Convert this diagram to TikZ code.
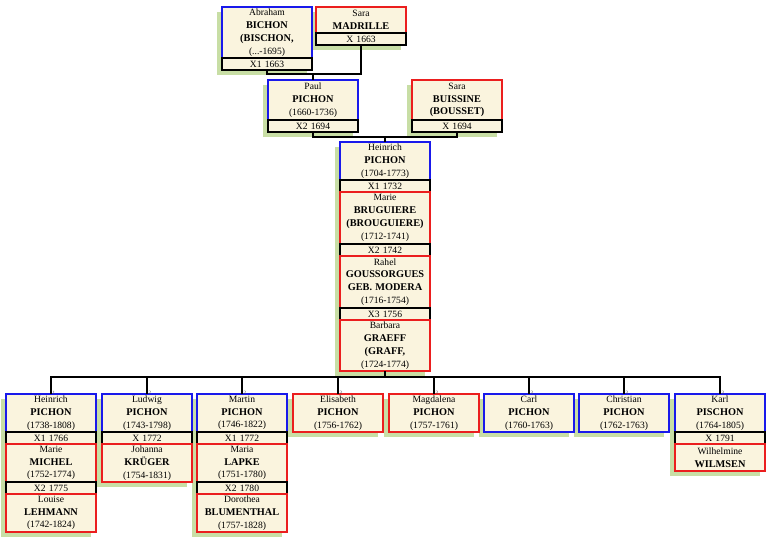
\documentclass[tikz,border=0pt]{standalone}
\usepackage{fontspec}
\setmainfont{Liberation Serif}
\usetikzlibrary{positioning,backgrounds}
\definecolor{cream}{RGB}{250,244,222}
\definecolor{mblue}{RGB}{25,25,235}
\definecolor{fred}{RGB}{235,30,30}
\definecolor{shade}{RGB}{200,222,165}
\newcommand{\nm}[1]{{\fontsize{10.3}{12.8}\selectfont\bfseries #1}}

\begin{document}
\begin{tikzpicture}[x=1pt, y=-1pt,
  box/.style={shape=rectangle, fill=cream, line width=1.4pt, inner xsep=2pt, inner ysep=1.6pt, outer sep=0pt, text width=86pt, align=center, font=\fontsize{9.6}{12.8}\selectfont},
  man/.style={box, draw=mblue, minimum height=#1},
  man/.default=38pt,
  woman/.style={box, draw=fred, minimum height=#1},
  woman/.default=38pt,
  wed/.style={box, draw=black, minimum height=12pt},
  link/.style={draw=black, line width=1.3pt},
  num/.style={font=\fontsize{5}{5}\selectfont, inner sep=0pt, text=black!70},
  backshade/.style={fill=shade}]
        \useasboundingbox (0,0) rectangle (768,540);

        % grandparents
        \node[man=51pt, anchor=north west] (abraham) at (222,7) {Abraham\\\nm{BICHON}\\\nm{(BISCHON,}\\(...-1695)};
        \node[wed, below=0pt of abraham] (abrahamx) {X1 1663};
        \node[woman=26pt, anchor=north west] (madrille) at (316,7) {Sara\\\nm{MADRILLE}};
        \node[wed, below=0pt of madrille] (madrillex) {X 1663};

        % parents
        \node[man=40pt, anchor=north west] (paul) at (268,80) {Paul\\\nm{PICHON}\\(1660-1736)};
        \node[wed, below=0pt of paul] (paulx) {X2 1694};
        \node[woman=40pt, anchor=north west] (buissine) at (412,80) {Sara\\\nm{BUISSINE}\\\nm{(BOUSSET)}};
        \node[wed, below=0pt of buissine] (buissinex) {X 1694};

        % Heinrich and his wives
        \node[man, anchor=north west] (heinrich) at (340,142) {Heinrich\\\nm{PICHON}\\(1704-1773)};
        \node[wed, below=0pt of heinrich] (heinrichx1) {X1 1732};
        \node[woman=52pt, below=0pt of heinrichx1] (bruguiere) {Marie\\\nm{BRUGUIERE}\\\nm{(BROUGUIERE)}\\(1712-1741)};
        \node[wed, below=0pt of bruguiere] (heinrichx2) {X2 1742};
        \node[woman=52pt, below=0pt of heinrichx2] (goussorgues) {Rahel\\\nm{GOUSSORGUES}\\\nm{GEB. MODERA}\\(1716-1754)};
        \node[wed, below=0pt of goussorgues] (heinrichx3) {X3 1756};
        \node[woman=51pt, below=0pt of heinrichx3] (barbara) {Barbara\\\nm{GRAEFF}\\\nm{(GRAFF,}\\(1724-1774)};

        % children
        \node[man, anchor=north west] (heinrichj) at (6,394) {Heinrich\\\nm{PICHON}\\(1738-1808)};
        \node[wed, below=0pt of heinrichj] (heinrichjx1) {X1 1766};
        \node[woman, below=0pt of heinrichjx1] (michel) {Marie\\\nm{MICHEL}\\(1752-1774)};
        \node[wed, below=0pt of michel] (heinrichjx2) {X2 1775};
        \node[woman, below=0pt of heinrichjx2] (lehmann) {Louise\\\nm{LEHMANN}\\(1742-1824)};

        \node[man, anchor=north west] (ludwig) at (102,394) {Ludwig\\\nm{PICHON}\\(1743-1798)};
        \node[wed, below=0pt of ludwig] (ludwigx) {X 1772};
        \node[woman, below=0pt of ludwigx] (krueger) {Johanna\\\nm{KRÜGER}\\(1754-1831)};

        \node[man, anchor=north west] (martin) at (197,394) {Martin\\\nm{PICHON}\\(1746-1822)};
        \node[wed, below=0pt of martin] (martinx1) {X1 1772};
        \node[woman, below=0pt of martinx1] (lapke) {Maria\\\nm{LAPKE}\\(1751-1780)};
        \node[wed, below=0pt of lapke] (martinx2) {X2 1780};
        \node[woman, below=0pt of martinx2] (blumenthal) {Dorothea\\\nm{BLUMENTHAL}\\(1757-1828)};

        \node[woman, anchor=north west] (elisabeth) at (293,394) {Elisabeth\\\nm{PICHON}\\(1756-1762)};
        \node[woman, anchor=north west] (magdalena) at (389,394) {Magdalena\\\nm{PICHON}\\(1757-1761)};
        \node[man, anchor=north west] (carl) at (484,394) {Carl\\\nm{PICHON}\\(1760-1763)};
        \node[man, anchor=north west] (christian) at (579,394) {Christian\\\nm{PICHON}\\(1762-1763)};

        \node[man, anchor=north west] (karl) at (675,394) {Karl\\\nm{PISCHON}\\(1764-1805)};
        \node[wed, below=0pt of karl] (karlx) {X 1791};
        \node[woman=27pt, below=0pt of karlx] (wilmsen) {Wilhelmine\\\nm{WILMSEN}};

        % shadows
        \begin{pgfonlayer}{background}
        \foreach \a/\b in {abraham/abrahamx, madrille/madrillex, paul/paulx, buissine/buissinex, heinrich/barbara, heinrichj/lehmann, ludwig/krueger, martin/blumenthal, elisabeth/elisabeth, magdalena/magdalena, carl/carl, christian/christian, karl/wilmsen}
          \fill[backshade] ([shift={(-5,5)}]\a.north west) rectangle ([shift={(-5,5)}]\b.south east);
        \end{pgfonlayer}

        % lines
        \coordinate (j1) at (313,74);
        \coordinate (j2) at (385,137);
        \coordinate (j3) at (385,377);
        \draw[link] (abrahamx.south) |- (j1) -| (madrillex.south);
        \draw[link] (j1) -- (paul.north);
        \draw[link] (paulx.south) |- (j2) -| (buissinex.south);
        \draw[link] (j2) -- (heinrich.north);
        \draw[link] (barbara.south) -- (j3);
        \draw[link] (heinrichj.north) |- (j3) -| (karl.north);
        \foreach \c in {ludwig, martin, elisabeth, magdalena, carl, christian}
          \draw[link] (\c.north) -- (\c.north |- j3);
        \foreach \c/\k in {heinrichj/1, ludwig/2, martin/2, elisabeth/3, magdalena/3, carl/3, christian/3, karl/3}
          \node[num, anchor=south west] (n\c) at ([xshift=1.5pt,yshift=-1pt]\c.north) {\k};

\end{tikzpicture}
\end{document}
